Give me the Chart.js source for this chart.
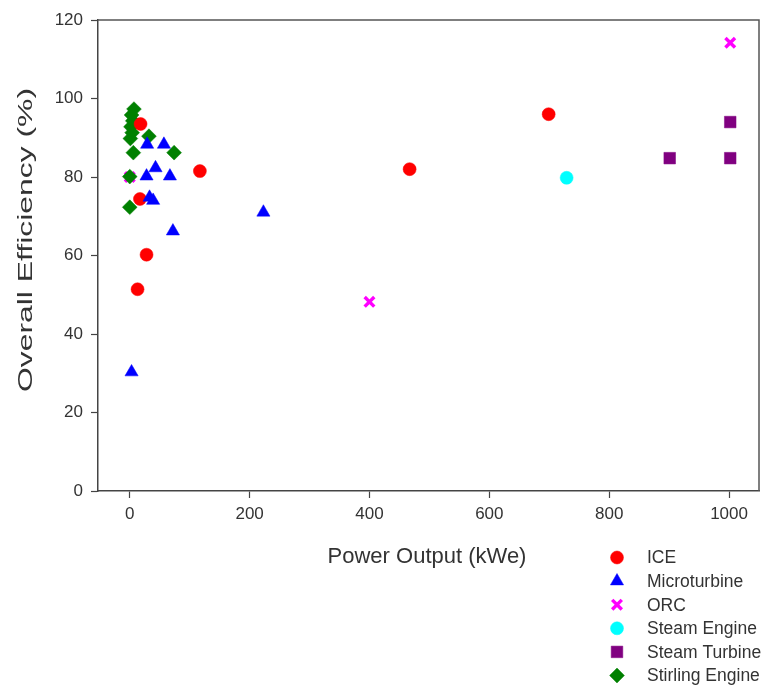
<!DOCTYPE html>
<html><head><meta charset="utf-8">
<script src="https://cdn.jsdelivr.net/npm/chart.js@4/dist/chart.umd.min.js"></script>
<style>html,body{margin:0;padding:0;background:#fff}#wrap{width:772px;height:687px}</style>
</head><body><div id="wrap"><canvas id="c" width="772" height="687"></canvas></div>
<script>
// ---- data ----
const seriesNames = ['ICE', 'Microturbine', 'ORC', 'Steam Engine', 'Steam Turbine', 'Stirling Engine'];
const iceX = [18, 117, 467, 699, 17, 28, 13];
const iceY = [93.5, 81.5, 82, 96, 74.4, 60.2, 51.4];
const microX = [29, 57, 43, 28, 67, 33, 39, 72, 223, 3];
const microY = [88.3, 88.3, 82.3, 80.2, 80.2, 74.8, 74, 66.2, 71, 30.3];
const orcX = [400, 1002, 0];
const orcY = [48.2, 114.2, 80];
const steamEngineX = [729];
const steamEngineY = [79.8];
const steamTurbineX = [901, 1002, 1002];
const steamTurbineY = [84.8, 84.8, 94];
const stirlingX = [7, 3, 5, 2, 4, 1, 32, 6, 74, 0, 0];
const stirlingY = [97.3, 95.8, 94.3, 92.8, 91.3, 89.8, 90.4, 86.2, 86.2, 80.1, 72.3];
const xTicks = [0, 200, 400, 600, 800, 1000];
const xTickLabels = ['0', '200', '400', '600', '800', '1000'];
const yTicks = [0, 20, 40, 60, 80, 100, 120];
const yTickLabels = ['0', '20', '40', '60', '80', '100', '120'];
const xTitle = 'Power Output (kWe)';
const yTitle = 'Overall Efficiency (%)';

// ---- styles ----
const colors = ['#ff0000', '#0000ff', '#ff00ff', '#00ffff', '#800080', '#008000'];
const styles = ['circle', 'triangle', 'crossRot', 'circle', 'rect', 'rectRot'];
const radii = [6.5, 7.6, 6.8, 6.5, 8.2, 7.4];
const orders = [1, 0, 3, 4, 5, 2];
const xs = [iceX, microX, orcX, steamEngineX, steamTurbineX, stirlingX];
const ys = [iceY, microY, orcY, steamEngineY, steamTurbineY, stirlingY];

const datasets = seriesNames.map((name, i) => ({
  label: name,
  data: xs[i].map((x, j) => ({x: x, y: ys[i][j]})),
  pointStyle: styles[i],
  pointRadius: radii[i],
  pointHoverRadius: radii[i],
  backgroundColor: colors[i],
  borderColor: colors[i],
  pointBorderWidth: styles[i] === 'crossRot' ? 3.4 : 0.5,
  order: orders[i]
}));

Chart.defaults.font.family = "'Liberation Sans', Arial, sans-serif";
const AX = '#444';
const TXT = '#333';

function drawMarker(ctx, style, r, x, y, color, bw) {
  ctx.save();
  ctx.fillStyle = color; ctx.strokeStyle = color; ctx.lineWidth = bw;
  if (Chart.helpers && Chart.helpers.drawPoint) {
    Chart.helpers.drawPoint(ctx, {pointStyle: style, radius: r, rotation: 0, borderWidth: bw}, x, y);
  } else {
    ctx.beginPath(); ctx.arc(x, y, r, 0, Math.PI * 2); ctx.fill();
  }
  ctx.restore();
}

const extras = {
  id: 'extras',
  beforeDatasetsDraw(chart) {
    const {ctx, chartArea: a} = chart;
    ctx.save();
    ctx.strokeStyle = '#555'; ctx.lineWidth = 1.5;
    ctx.beginPath();
    ctx.moveTo(a.left, a.top); ctx.lineTo(a.right, a.top); ctx.lineTo(a.right, a.bottom);
    ctx.stroke();
    ctx.restore();
  },
  afterDraw(chart) {
    const {ctx} = chart;
    ctx.save();
    ctx.fillStyle = TXT;
    // x title
    ctx.font = "22px 'Liberation Sans', Arial, sans-serif";
    ctx.textAlign = 'center'; ctx.textBaseline = 'alphabetic';
    ctx.fillText(xTitle, 427, 563);
    // y title (stretched along its length as in the reference)
    ctx.font = "21px 'Liberation Sans', Arial, sans-serif";
    const w = ctx.measureText(yTitle).width;
    ctx.translate(26, 240);
    ctx.rotate(-Math.PI / 2);
    ctx.scale(304 / w, 1);
    ctx.textBaseline = 'middle';
    ctx.fillText(yTitle, 0, 0);
    ctx.restore();
    // legend
    ctx.save();
    ctx.font = "17.5px 'Liberation Sans', Arial, sans-serif";
    ctx.textAlign = 'left'; ctx.textBaseline = 'middle';
    seriesNames.forEach((name, i) => {
      const y = 557.5 + i * 23.6;
      drawMarker(ctx, styles[i], radii[i], 617, y, colors[i], styles[i] === 'crossRot' ? 3.4 : 0.5);
      ctx.fillStyle = TXT;
      ctx.fillText(name, 647, y + 1);
    });
    ctx.restore();
  }
};

new Chart(document.getElementById('c'), {
  type: 'scatter',
  data: {datasets: datasets},
  options: {
    responsive: false,
    animation: false,
    devicePixelRatio: 1,
    layout: {padding: {top: 20, right: 13, left: 0, bottom: 0}},
    plugins: {legend: {display: false}, tooltip: {enabled: false}},
    scales: {
      x: {
        type: 'linear', min: -53, max: 1050,
        afterBuildTicks: s => { s.ticks = xTicks.map(v => ({value: v})); },
        afterFit: s => { s.height = 196; },
        ticks: {font: {size: 17}, color: TXT, padding: 6, maxRotation: 0,
          callback: (v) => xTickLabels[xTicks.indexOf(v)]},
        grid: {drawOnChartArea: false, drawTicks: true, tickLength: 7, tickColor: AX, tickWidth: 1.2},
        border: {display: true, color: AX, width: 1.5}
      },
      y: {
        type: 'linear', min: 0, max: 120,
        afterBuildTicks: s => { s.ticks = yTicks.map(v => ({value: v})); },
        afterFit: s => { s.width = 98; },
        ticks: {font: {size: 17}, color: TXT, padding: 8,
          callback: (v) => yTickLabels[yTicks.indexOf(v)]},
        grid: {drawOnChartArea: false, drawTicks: true, tickLength: 7, tickColor: AX, tickWidth: 1.2},
        border: {display: true, color: AX, width: 1.5}
      }
    }
  },
  plugins: [extras]
});
</script>
</body></html>
